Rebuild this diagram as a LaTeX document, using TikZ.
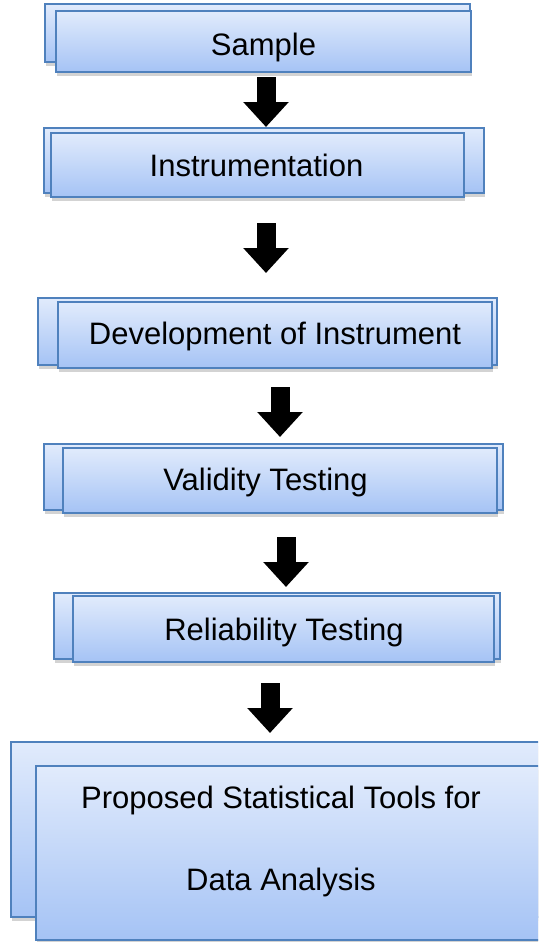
\documentclass[tikz,border=0pt]{standalone}
\usepackage{fontspec}
\setmainfont{Liberation Sans}
\usetikzlibrary{arrows.meta,positioning,fit,shadows}
\definecolor{boxtop}{RGB}{225,235,252}
\definecolor{boxbot}{RGB}{165,195,245}
\definecolor{boxline}{RGB}{79,129,189}

\begin{document}
\begin{tikzpicture}[x=0.5pt,y=-0.5pt,every node/.style={font=\fontsize{15.5}{18}\selectfont},
 box/.style={draw=boxline,line width=0.9pt,top color=boxtop,bottom color=boxbot,inner sep=0pt,
  drop shadow={shadow xshift=0.3pt,shadow yshift=-1.8pt,opacity=0.35}},
 txt/.style={anchor=base,inner sep=0pt,align=center},
 bigarrow/.style={line width=9.5pt,-{Triangle[width=22pt,length=12.5pt]}}]
\path[use as bounding box,clip] (0,0) rectangle (538,942);
% steps, back box then front box
\node[box,fit={(45,4) (470,62)}](sampleback){};
\node[box,fit={(56,11) (471,72)}](sample){};
\node[txt](sampletext) at (263.5,55){Sample};
\node[box,fit={(44,128) (484,193)}](instrback){};
\node[box,fit={(51,133) (464,197)}](instr){};
\node[txt](instrtext) at (256.5,176){Instrumentation};
\node[box,fit={(38,298) (497,365)}](devback){};
\node[box,fit={(58,302) (492,368)}](dev){};
\node[txt](devtext) at (275,344){Development of Instrument};
\node[box,fit={(44,444) (503,510)}](validback){};
\node[box,fit={(63,448) (497,513)}](valid){};
\node[txt](validtext) at (265.5,490){Validity Testing};
\node[box,fit={(54,593) (500,659)}](reliback){};
\node[box,fit={(73,596) (494,662)}](reli){};
\node[txt](relitext) at (284,640){Reliability Testing};
\node[box,fit={(11,742) (570,917)}](toolsback){};
\node[box,fit={(36,766) (570,940)}](tools){};
\node[txt](toolstext) at (281,890){Proposed Statistical Tools for\\[23pt]Data Analysis};
% block arrows
\coordinate (a1) at (266,77);\coordinate (a2) at (266,223);\coordinate (a3) at (280,387);
\coordinate (a4) at (286,537);\coordinate (a5) at (270,683);
\draw[bigarrow](a1)--++(0,50);\draw[bigarrow](a2)--++(0,50);\draw[bigarrow](a3)--++(0,50);
\draw[bigarrow](a4)--++(0,50);\draw[bigarrow](a5)--++(0,50);
\end{tikzpicture}
\end{document}
